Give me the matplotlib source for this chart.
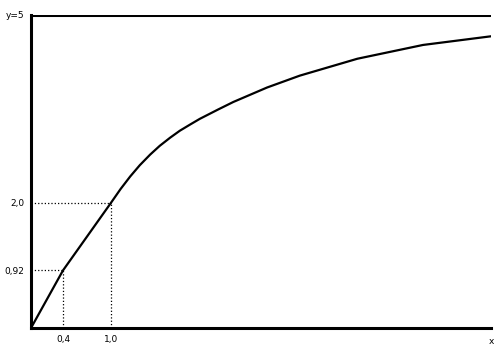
import numpy as np
import matplotlib
matplotlib.use('Agg')
import matplotlib.pyplot as plt

# curve (x, y)
curve_x = [0.0, 0.4, 1.0, 1.12, 1.24, 1.36, 1.49, 1.61, 1.74, 1.86, 1.99,
           2.11, 2.34, 2.53, 2.95, 3.36, 4.08, 4.9, 5.76]
curve_y = [0.0, 0.92, 2.0, 2.22, 2.42, 2.6, 2.77, 2.91, 3.04, 3.15, 3.25,
           3.34, 3.49, 3.61, 3.84, 4.03, 4.30, 4.52, 4.66]

# marked points
mark_x = [0.4, 1.0]
mark_y = [0.92, 2.0]
xtick_labels = ['0,4', '1,0']
ytick_labels = ['0,92', '2,0', 'y=5']
asymptote = 5

fig = plt.figure(figsize=(5, 3.53), dpi=100)
ax = fig.add_axes([0.062, 0.0708, 0.92, 0.887])

ax.plot(curve_x, curve_y, color='black', linewidth=1.6, solid_joinstyle='round')
ax.axhline(asymptote, color='black', linewidth=2.2)

# dotted guides
for mx, my in zip(mark_x, mark_y):
    ax.plot([0, mx], [my, my], color='black', linestyle=':', linewidth=0.9)
    ax.plot([mx, mx], [0, my], color='black', linestyle=':', linewidth=0.9)

ax.set_xlim(0, 5.75)
ax.set_ylim(0, 5)

for side in ['top', 'right']:
    ax.spines[side].set_visible(False)
for side in ['left', 'bottom']:
    ax.spines[side].set_linewidth(2.2)

ax.set_xticks(mark_x)
ax.set_xticklabels(xtick_labels, fontsize=6.5)
ax.set_yticks(mark_y + [asymptote])
ax.set_yticklabels(ytick_labels, fontsize=6.5)
ax.tick_params(length=0, pad=5)

ax.text(5.75, -0.15, 'x', fontsize=6.5, ha='center', va='top')

fig.savefig('out.png', dpi=100)
